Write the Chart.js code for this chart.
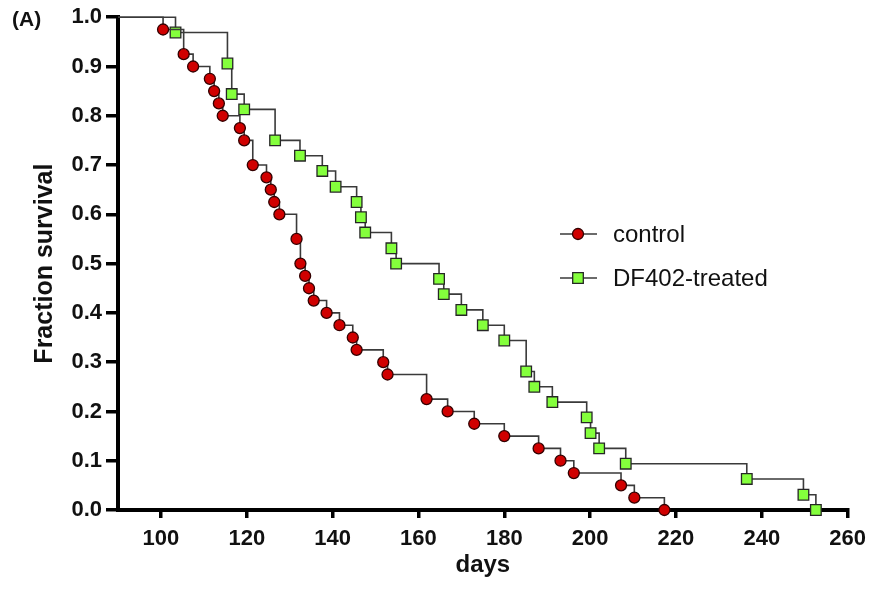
<!DOCTYPE html>
<html lang="en">
<head>
  <meta charset="UTF-8" />
  <title>Fraction survival</title>
  <script src="https://cdn.jsdelivr.net/npm/chart.js"></script>
  <style>
    body { margin: 0; background: white; }
    #wrap { position: relative; width: 874px; height: 593px; }
  </style>
</head>
<body>
  <div id="wrap"><canvas id="km"></canvas></div>

  <script>
    // Kaplan-Meier survival
    const controlDays = [0, 100.5, 105.3, 107.5, 111.4, 112.4, 113.5, 114.4, 118.4, 119.4,
      121.4, 124.6, 125.6, 126.4, 127.6, 131.6, 132.5, 133.6, 134.5, 135.6,
      138.6, 141.6, 144.7, 145.6, 151.8, 152.8, 161.9, 166.8, 173, 180,
      188, 193.1, 196.2, 207.2, 210.3, 217.3];
    const controlSurv = [1, 0.975, 0.925, 0.9, 0.875, 0.85, 0.825, 0.8, 0.775, 0.75,
      0.7, 0.675, 0.65, 0.625, 0.6, 0.55, 0.5, 0.475, 0.45, 0.425,
      0.4, 0.375, 0.35, 0.325, 0.3, 0.275, 0.225, 0.2, 0.175, 0.15,
      0.125, 0.1, 0.075, 0.05, 0.025, 0];

    const treatedDays = [0, 103.4, 115.5, 116.5, 119.4, 126.6, 132.4, 137.6, 140.7, 145.6,
      146.6, 147.6, 153.7, 154.8, 164.8, 165.9, 170, 175, 180, 185.1,
      187, 191.2, 199.2, 200.1, 202.1, 208.3, 236.5, 249.7, 252.6];
    const treatedSurv = [1, 0.969, 0.906, 0.844, 0.813, 0.75, 0.719, 0.688, 0.656, 0.625,
      0.594, 0.563, 0.531, 0.5, 0.469, 0.438, 0.406, 0.375, 0.344, 0.281,
      0.25, 0.219, 0.188, 0.156, 0.125, 0.094, 0.063, 0.031, 0];

    const xTicks = [100, 120, 140, 160, 180, 200, 220, 240, 260];
    const yTicks = [0, 0.1, 0.2, 0.3, 0.4, 0.5, 0.6, 0.7, 0.8, 0.9, 1.0];
    const seriesNames = ['control', 'DF402-treated'];

    const FONT = 'Liberation Sans, Arial, sans-serif';
    const toPts = (xs, ys) => xs.map((x, i) => ({ x: x, y: ys[i] }));

    const styles = [
      { fill: '#d00000', border: '#330000', shape: 'circle', r: 5.5 },
      { fill: '#84ff3c', border: '#262626', shape: 'rect', r: 7.5 }
    ];

    function makeSet(i, xs, ys) {
      const s = styles[i];
      return {
        label: seriesNames[i],
        data: toPts(xs, ys),
        stepped: 'before',
        borderColor: '#3a3a3a',
        borderWidth: 1.6,
        pointStyle: s.shape,
        pointRadius: c => c.dataIndex === 0 ? 0 : s.r,
        pointBackgroundColor: s.fill,
        pointBorderColor: s.border,
        pointBorderWidth: 1.3,
        clip: { left: 0, top: false, right: false, bottom: false }
      };
    }

    // legend with a short line through the marker
    const kmLegend = {
      id: 'kmLegend',
      afterDraw(chart) {
        const ctx = chart.ctx;
        const rows = [234, 278];
        ctx.save();
        rows.forEach((y, i) => {
          const s = styles[i];
          ctx.strokeStyle = '#3a3a3a';
          ctx.lineWidth = 1.6;
          ctx.beginPath();
          ctx.moveTo(560, y);
          ctx.lineTo(597, y);
          ctx.stroke();
          ctx.fillStyle = s.fill;
          ctx.strokeStyle = s.border;
          ctx.lineWidth = 1.3;
          ctx.beginPath();
          if (s.shape === 'circle') {
            ctx.arc(578, y, s.r, 0, Math.PI * 2);
          } else {
            const h = s.r * Math.SQRT1_2;
            ctx.rect(578 - h, y - h, h * 2, h * 2);
          }
          ctx.fill();
          ctx.stroke();
          ctx.fillStyle = '#111';
          ctx.font = '24px ' + FONT;
          ctx.textBaseline = 'middle';
          ctx.textAlign = 'left';
          ctx.fillText(seriesNames[i], 613, y + 1);
        });
        ctx.font = 'bold 21px ' + FONT;
        ctx.textBaseline = 'middle';
        ctx.fillText('(A)', 12, 20);
        ctx.restore();
      }
    };

    new Chart(document.getElementById('km'), {
      type: 'line',
      data: {
        datasets: [
          makeSet(0, controlDays, controlSurv),
          makeSet(1, treatedDays, treatedSurv)
        ]
      },
      options: {
        responsive: true,
        maintainAspectRatio: false,
        animation: false,
        layout: { padding: { left: 0, right: 24, top: 17, bottom: 0 } },
        plugins: { legend: { display: false }, tooltip: { enabled: false } },
        scales: {
          x: {
            type: 'linear',
            min: 90,
            max: 260,
            afterBuildTicks: s => { s.ticks = xTicks.map(v => ({ value: v })); },
            afterFit: s => { s.height = 83; },
            border: { display: true, color: '#000', width: 4 },
            grid: { drawOnChartArea: false, drawTicks: true, tickLength: 8, lineWidth: 3.5, color: '#000' },
            ticks: { color: '#111', padding: 8, font: { family: FONT, size: 22, weight: 'bold' } },
            title: { display: true, text: 'days', color: '#111', padding: { top: 0, bottom: 13 }, font: { family: FONT, size: 24, weight: 'bold' } }
          },
          y: {
            min: 0,
            max: 1,
            afterBuildTicks: s => { s.ticks = yTicks.map(v => ({ value: v })); },
            afterFit: s => { s.width = 118; },
            border: { display: true, color: '#000', width: 4 },
            grid: { drawOnChartArea: false, drawTicks: true, tickLength: 12, lineWidth: 3.5, color: '#000' },
            ticks: { color: '#111', padding: 4, callback: v => v.toFixed(1), font: { family: FONT, size: 22, weight: 'bold' } },
            title: { display: true, text: 'Fraction survival', color: '#111', padding: { top: 30, bottom: 0 }, font: { family: FONT, size: 25, weight: 'bold' } }
          }
        }
      },
      plugins: [kmLegend]
    });
  </script>
</body>
</html>
